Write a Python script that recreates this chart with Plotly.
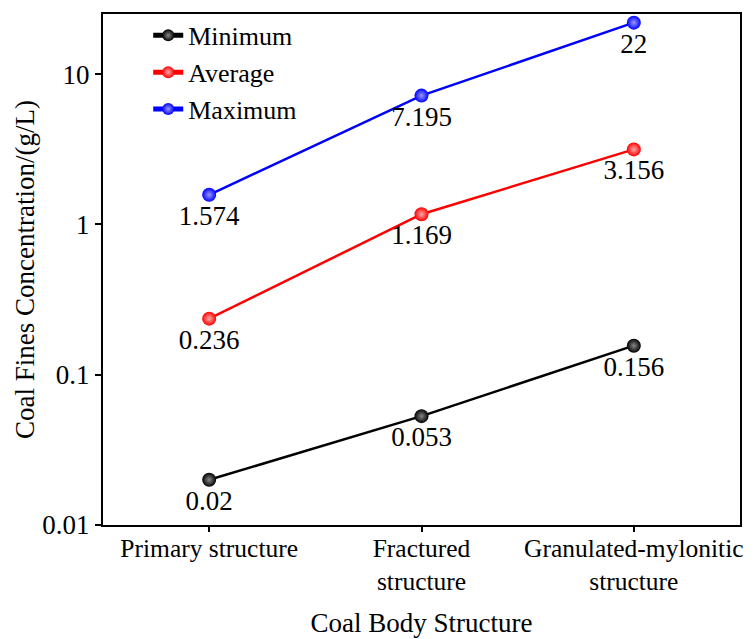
import plotly.graph_objects as go

categories = ["Primary structure", "Fractured<br>structure", "Granulated-mylonitic<br>structure"]
minimum = [0.02, 0.053, 0.156]
average = [0.236, 1.169, 3.156]
maximum = [1.574, 7.195, 22]
min_labels = ["0.02", "0.053", "0.156"]
avg_labels = ["0.236", "1.169", "3.156"]
max_labels = ["1.574", "7.195", "22"]

FONT = "Liberation Serif, Times New Roman, Times, serif"
FS = 27
x = [0, 1, 2]

fig = go.Figure()
series = [
    ("Minimum", minimum, min_labels, "#000000", "#888888"),
    ("Average", average, avg_labels, "#ff0000", "#ffaaaa"),
    ("Maximum", maximum, max_labels, "#0000ff", "#9999ff"),
]
for name, vals, labels, col, grad in series:
    fig.add_trace(go.Scatter(
        x=x, y=vals, name=name, mode="lines+markers+text",
        text=labels, textposition="bottom center",
        textfont=dict(family=FONT, size=FS, color="black"),
        line=dict(color=col, width=2.5),
        marker=dict(size=14, color=col, gradient=dict(type="radial", color=grad)),
    ))

fig.update_layout(
    width=754, height=639,
    margin=dict(l=103, r=14, t=14, b=114, autoexpand=False),
    paper_bgcolor="white", plot_bgcolor="white",
    font=dict(family=FONT, size=FS, color="black"),
    showlegend=True,
    legend=dict(x=0.071, y=1.004, xanchor="left", yanchor="top",
                bgcolor="rgba(0,0,0,0)", font=dict(family=FONT, size=26),
                tracegroupgap=0, itemsizing="constant"),
    xaxis=dict(
        range=[-0.5, 2.5], tickmode="array", tickvals=x, ticktext=categories,
        showline=True, linecolor="black", linewidth=2, mirror=True,
        ticks="outside", ticklen=5, tickwidth=1.5, tickcolor="black",
        showgrid=False, zeroline=False, automargin=False,
        ticklabelstandoff=-6,
        title=dict(text="Coal Body Structure", standoff=18, font=dict(size=FS)),
        tickfont=dict(size=25.5),
    ),
    yaxis=dict(
        type="log", range=[-2, 1.4],
        tickmode="array", tickvals=[0.01, 0.1, 1, 10], ticktext=["0.01", "0.1", "1", "10"],
        showline=True, linecolor="black", linewidth=2, mirror=True,
        ticks="outside", ticklen=6, tickwidth=1.5, tickcolor="black",
        showgrid=False, zeroline=False, automargin=False,
        title=dict(text="Coal Fines Concentration/(g/L)", standoff=0, font=dict(size=FS)),
        tickfont=dict(size=FS),
    ),
)

fig.write_html("out.html", config={"displayModeBar": False},
               post_script="document.body.style.margin='0';")
